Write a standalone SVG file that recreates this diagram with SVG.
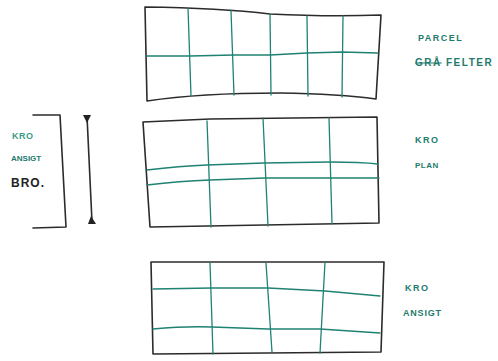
<svg xmlns="http://www.w3.org/2000/svg" width="498" height="361" viewBox="0 0 498 361">
<style>
.frame{fill:none;stroke:#2b2b2b;stroke-width:1.6;stroke-linejoin:round;stroke-linecap:round}
.grid{fill:none;stroke:#1f8272;stroke-width:1.3;stroke-linecap:round}
.t{font-family:"Liberation Sans",Arial,sans-serif;font-size:9px;font-weight:bold;fill:#1f7a6c;letter-spacing:0.5px}
.d{font-family:"Liberation Sans",Arial,sans-serif;font-size:12px;font-weight:bold;fill:#222;letter-spacing:1px}
</style>
<rect width="498" height="361" fill="#ffffff"/>
<g id="panel-top">
<path class="frame" d="M145,7 Q220,8 270,14 Q330,17 381,15 L376,99 Q340,94 280,93 Q200,93 147,101 Z"/>
<path class="grid" d="M188,8 L191,96 M231,11 L234,95 M270,14 L271,95 M307,16 L308,96 M343,16 L342,97"/>
<path class="grid" d="M147,56 L190,56 L234,55 L270,55 L307,53 L342,52 L378,53"/>
</g>
<g id="panel-middle">
<path class="frame" d="M143,122 L210,119 L377,117 L379,223 L150,227 Z"/>
<path class="grid" d="M207,121 L211,227 M263,118 L268,226 M329,118 L332,224"/>
<path class="grid" d="M147,170 Q180,166 207,165 L264,163 L330,162 Q360,162 378,164"/>
<path class="grid" d="M147,185 Q180,181 210,180 L265,178 L379,178"/>
</g>
<g id="panel-bottom">
<path class="frame" d="M151,262 L384,262 L381,352 L153,354 Z"/>
<path class="grid" d="M210,263 L213,354 M266,263 L272,352 M325,262 L320,353"/>
<path class="grid" d="M153,289 L212,288 L268,288 L325,291 L380,296"/>
<path class="grid" d="M153,329 Q185,326 212,327 L268,329 L320,329 L380,333"/>
</g>
<g id="bracket">
<path class="frame" d="M33,115 L60,115 L66,227 L33,228"/>
</g>
<g id="connectors">
<path class="frame" d="M87,116 L92,222"/>
<polygon points="83,115 91,115 87,123" fill="#222"/>
<polygon points="88,224 96,224 91,216" fill="#222"/>
</g>
<g id="label-left">
<text class="t" x="12" y="139" style="fill:#3a9a8a">KRO</text>
<text class="t" x="11" y="161" style="font-size:8px;letter-spacing:0">ANSIGT</text>
<text class="d" x="11" y="187">BRO.</text>
</g>
<g id="label-top">
<text class="t" x="418" y="41" style="letter-spacing:1.5px">PARCEL</text>
<text class="t" x="415" y="66" style="font-size:10px;letter-spacing:1.5px"><tspan text-decoration="line-through">GRÅ</tspan> FELTER</text>
</g>
<g id="label-middle">
<text class="t" x="415" y="143" style="letter-spacing:1.5px">KRO</text>
<text class="t" x="415" y="168" style="font-size:8px">PLAN</text>
</g>
<g id="label-bottom">
<text class="t" x="405" y="291" style="letter-spacing:1.5px">KRO</text>
<text class="t" x="403" y="316" style="letter-spacing:0.8px">ANSIGT</text>
</g>
</svg>
